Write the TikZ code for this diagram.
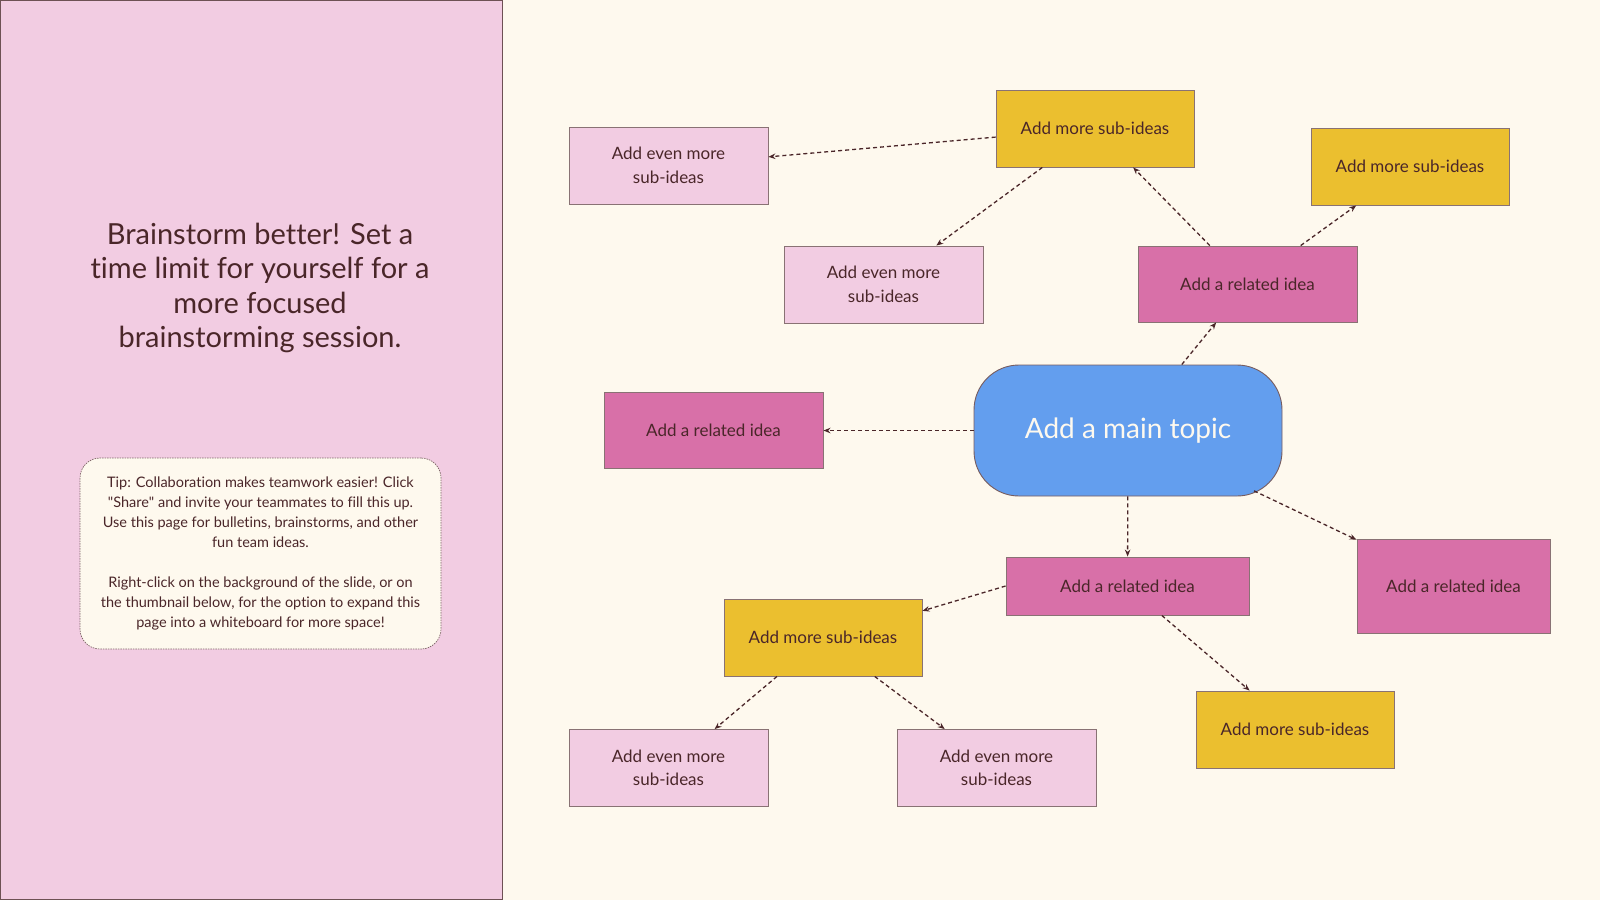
\documentclass[tikz,border=0pt]{standalone}
\usepackage{fontspec}
\setmainfont{Lato}[Ligatures=NoCommon]
\usepackage{tikz}
\usetikzlibrary{arrows.meta}
\definecolor{panelpink}{HTML}{F2CCE2}
\definecolor{cream}{HTML}{FEF9EE}
\definecolor{mustard}{HTML}{EBBF2F}
\definecolor{orchid}{HTML}{D870A8}
\definecolor{skyblue}{HTML}{639EEE}
\definecolor{ink}{HTML}{4A2629}
\tikzset{
  idea/.style={draw=ink!65, line width=0.9pt, inner sep=0pt, align=center, text=ink,
    font=\fontsize{17}{23.5}\selectfont},
  subidea/.style={idea, fill=mustard, minimum width=198pt, minimum height=77pt},
  evenmore/.style={idea, fill=panelpink, minimum width=199pt, minimum height=77pt},
  related/.style={idea, fill=orchid, minimum width=219pt, minimum height=76pt},
  topic/.style={draw=ink!75, line width=0.9pt, fill=skyblue, rounded corners=45pt,
    minimum width=308pt, minimum height=131pt, inner sep=0pt, text=cream,
    font=\fontsize{28}{32}\selectfont},
  link/.style={draw=ink, line width=1.3pt, dash pattern=on 4pt off 3pt,
    -{Stealth[length=7pt,width=5.5pt]}}
}
\newcommand{\joinideas}[2]{\draw[link] (#1) -- (#2);}

\begin{document}
\begin{tikzpicture}[x=1pt, y=-1pt]
    \useasboundingbox (0, 0) rectangle (1600, 900);
    \fill[cream] (502, 0) rectangle (1600, 900);
    \fill[panelpink] (0, 0) rectangle (502, 900);
    \draw[ink!80, line width=1pt] (0.5, 0.5) rectangle (502, 899.5);
    \node[text=ink, align=center, font=\fontsize{29}{34.5}\selectfont] (title) at (260, 288)
        {Brainstorm better! Set a\\time limit for yourself for a\\more focused\\brainstorming session.};
    \node[draw=ink!70, line width=0.7pt, dash pattern=on 1.5pt off 1pt, fill=cream,
        rounded corners=20pt, minimum width=361pt, minimum height=191pt, inner sep=0pt,
        text=ink, align=center, font=\fontsize{14.5}{20}\selectfont] (tip) at (260.5, 553.5)
        {Tip: Collaboration makes teamwork easier! Click\\\textquotedbl Share\textquotedbl{} and invite your teammates to fill this up.\\Use this page for bulletins, brainstorms, and other\\fun team ideas.\\[20pt]Right-click on the background of the slide, or on\\the thumbnail below, for the option to expand this\\page into a whiteboard for more space!};
    \node[topic] (main) at (1128, 430.5) {Add a main topic};
    \node[subidea] (ysubtop) at (1095, 128.5) {Add more sub-ideas};
    \node[subidea] (ysubright) at (1410, 166.5) {Add more sub-ideas};
    \node[subidea] (ysubleft) at (823, 637.5) {Add more sub-ideas};
    \node[subidea] (ysublow) at (1295, 729.5) {Add more sub-ideas};
    \node[evenmore] (etopleft) at (668.5, 165.5) {Add even more\\sub-ideas};
    \node[evenmore] (etopmid) at (883.5, 284.5) {Add even more\\sub-ideas};
    \node[evenmore] (elowleft) at (668.5, 768) {Add even more\\sub-ideas};
    \node[evenmore] (elowmid) at (996.5, 768) {Add even more\\sub-ideas};
    \node[related] (rtop) at (1247.5, 284) {Add a related idea};
    \node[related] (rleft) at (713.5, 430.5) {Add a related idea};
    \node[related, minimum width=243pt, minimum height=58pt] (rbottom) at (1127.5, 586) {Add a related idea};
    \node[related, minimum width=193pt, minimum height=94pt] (rright) at (1453.5, 586) {Add a related idea};
    \joinideas{ysubtop}{etopleft}
    \joinideas{ysubtop}{etopmid}
    \joinideas{rtop}{ysubtop}
    \joinideas{rtop}{ysubright}
    \joinideas{main}{rtop}
    \joinideas{main}{rleft}
    \joinideas{main}{rbottom}
    \draw[link, shorten <=-13pt] (main) -- (rright);
    \draw[link] (rbottom.west) -- (ysubleft.15);
    \joinideas{rbottom}{ysublow}
    \joinideas{ysubleft}{elowleft}
    \joinideas{ysubleft}{elowmid}
\end{tikzpicture}
\end{document}
